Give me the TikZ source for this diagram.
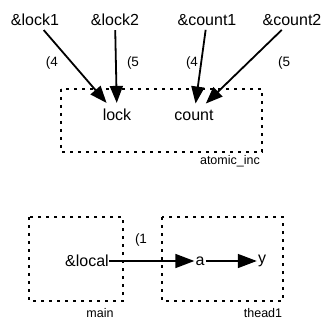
\documentclass[tikz,border=0pt]{standalone}
\usepackage{fontspec}
\setmainfont{Liberation Sans}
\usetikzlibrary{arrows.meta}
\begin{document}
\begin{tikzpicture}[x=1pt,y=-1pt,
  lbl/.style={font=\fontsize{16}{18}\selectfont, inner sep=4pt},
  small/.style={font=\fontsize{12.5}{14}\selectfont, inner sep=0pt},
  num/.style={font=\fontsize{13.5}{15}\selectfont, inner sep=0pt},
  grp/.style={draw, line width=1.5pt, dash pattern=on 3pt off 5pt},
  ptr/.style={draw, line width=1.8pt, -{Triangle[length=17pt,width=13pt]}},
  ptrb/.style={draw, line width=1.5pt, -{Triangle[length=19pt,width=14pt]}}]
\useasboundingbox (0,0) rectangle (328,320);
% groups
\draw[grp] (61,89) rectangle (262,152);
\draw[grp] (29,217) rectangle (123,301);
\draw[grp] (162,217) rectangle (283,301);
\node[small, anchor=east] (gai) at (260,161) {atomic\_inc};
\node[small] (gmain) at (100,313.5) {main};
\node[small] (gth) at (263,313.5) {thead1};
% nodes
\node[lbl] (lock1) at (35,20) {\&lock1};
\node[lbl] (lock2) at (115,20) {\&lock2};
\node[lbl] (count1) at (207,20) {\&count1};
\node[lbl] (count2) at (292,20) {\&count2};
\node[lbl, inner sep=6pt] (lock) at (117,115) {lock};
\node[lbl, inner sep=6pt] (count) at (194,115) {count};
\node[lbl, inner sep=0.5pt] (local) at (87,261) {\&local};
\node[lbl, inner sep=1pt] (a) at (200,261) {a};
\node[lbl, inner sep=1pt] (y) at (262,261) {y};
% labels
\node[num] (l1) at (52,63) {(4};
\node[num] (l2) at (133,63) {(5};
\node[num] (l3) at (192,63) {(4};
\node[num] (l4) at (284,63) {(5};
\node[num] (l5) at (141,240) {(1};
% connectors
\draw[ptr] (lock1) -- (lock);
\draw[ptr] (lock2) -- (lock);
\draw[ptr] (count1) -- (count);
\draw[ptr] (count2) -- (count);
\draw[ptrb] (local) -- (a);
\draw[ptrb] (a) -- (y);
\end{tikzpicture}
\end{document}
